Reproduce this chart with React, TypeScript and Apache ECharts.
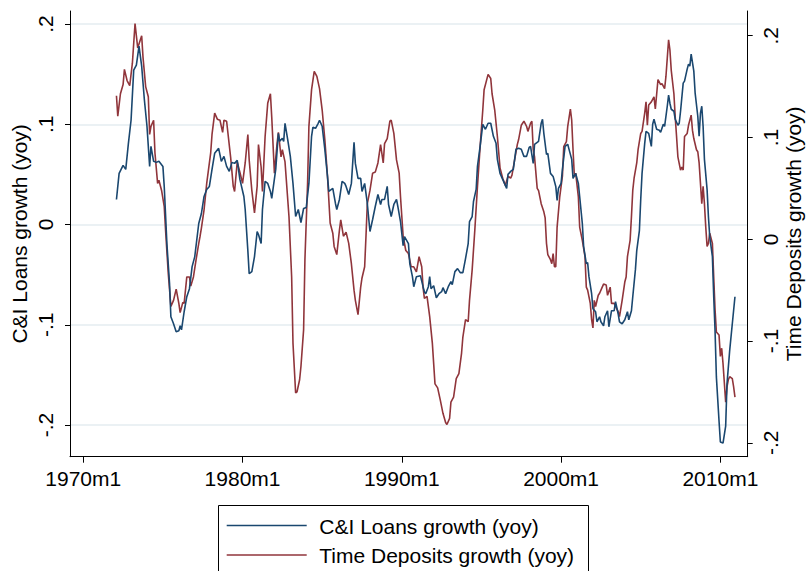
import React, { useEffect, useRef } from "react";
import * as echarts from "echarts";

const FONT = "'Liberation Sans', Arial, Helvetica, sans-serif";

// x axis: months since 1970m1
const xTickMonths = [0, 120, 240, 360, 480];
const leftTicks = [-0.2, -0.1, 0, 0.1, 0.2];
const rightTicks = [-0.2, -0.1, 0, 0.1, 0.2];

const seriesNames = ["C&I Loans growth (yoy)", "Time Deposits growth (yoy)"];
const leftTitle = "C&I Loans growth (yoy)";
const rightTitle = "Time Deposits growth (yoy)";

// C&I Loans growth (yoy), left axis
const ciMonths = [
  25, 27, 30, 32, 34, 36, 38, 40, 42, 44, 46, 48, 50, 51, 53, 55, 57, 60, 61, 63,
  65, 66, 68, 70, 72, 73, 74, 76, 78, 80, 82, 84, 87, 89, 91, 93, 95, 97, 99, 102,
  104, 106, 108, 110, 112, 114, 116, 118, 121, 122, 124, 125, 127, 129, 131, 132, 134, 135, 137, 139,
  141, 142, 145, 147, 148, 150, 151, 152, 154, 156, 158, 160, 162, 164, 166, 168, 170, 172, 173, 175,
  177, 178, 180, 182, 184, 185, 188, 190, 191, 193, 195, 197, 198, 200, 202, 204, 205, 207, 209, 210,
  212, 214, 216, 218, 220, 222, 224, 225, 227, 229, 230, 232, 234, 236, 237, 239, 241, 242, 245, 246,
  248, 249, 251, 254, 256, 257, 258, 260, 261, 262, 264, 266, 268, 270, 271, 273, 275, 277, 278, 280,
  282, 284, 286, 288, 290, 291, 293, 294, 296, 297, 299, 301, 303, 305, 307, 309, 311, 312, 314, 316,
  319, 320, 322, 324, 326, 328, 330, 332, 334, 336, 337, 339, 340, 343, 345, 346, 347, 349, 350, 352,
  354, 356, 357, 358, 360, 361, 363, 365, 366, 368, 369, 371, 373, 374, 376, 377, 379, 380, 381, 383,
  384, 386, 387, 389, 390, 392, 393, 395, 396, 398, 400, 401, 403, 404, 406, 408, 410, 411, 413, 414,
  416, 417, 419, 420, 421, 423, 424, 426, 428, 429, 430, 432, 434, 435, 437, 438, 440, 441, 442, 443,
  445, 446, 448, 449, 450, 452, 453, 455, 456, 457, 458, 460, 461, 463, 464, 465, 466, 467, 468, 470,
  471, 472, 474, 475, 476, 477, 479, 480, 482, 484, 485, 487, 489, 491,
];
const ciValues = [
  0.025, 0.051, 0.059, 0.055, 0.081, 0.104, 0.154, 0.159, 0.178, 0.158, 0.125, 0.098, 0.058, 0.078, 0.063, 0.062, 0.063, 0.058, 0.038, -0.019,
  -0.059, -0.092, -0.099, -0.107, -0.106, -0.101, -0.105, -0.087, -0.072, -0.064, -0.042, -0.032, 0.001, 0.011, 0.028, 0.035, 0.038, 0.055, 0.071, 0.076,
  0.063, 0.068, 0.058, 0.053, 0.062, 0.061, 0.064, 0.045, 0.028, 0.015, -0.026, -0.049, -0.047, -0.032, -0.007, -0.01, -0.019, 0.015, 0.043, 0.041,
  0.033, 0.026, 0.055, 0.091, 0.083, 0.086, 0.083, 0.101, 0.085, 0.068, 0.041, 0.008, 0.015, 0.002, 0.016, 0.017, 0.041, 0.088, 0.097, 0.096,
  0.101, 0.104, 0.098, 0.075, 0.048, 0.033, 0.036, 0.021, 0.015, 0.025, 0.043, 0.041, 0.038, 0.03, 0.041, 0.082, 0.061, 0.046, 0.046, 0.033,
  0.041, 0.021, -0.007, 0.005, 0.018, 0.03, 0.02, 0.025, 0.025, 0.038, 0.02, 0.008, 0.02, 0.025, 0.018, 0.003, -0.021, -0.012, -0.019, -0.039,
  -0.052, -0.062, -0.052, -0.051, -0.062, -0.067, -0.069, -0.062, -0.052, -0.064, -0.061, -0.073, -0.069, -0.067, -0.063, -0.069, -0.062, -0.057, -0.06, -0.047,
  -0.044, -0.048, -0.048, -0.034, -0.019, 0.003, 0.008, 0.023, 0.035, 0.058, 0.078, 0.1, 0.095, 0.101, 0.101, 0.088, 0.081, 0.065, 0.051, 0.045,
  0.036, 0.05, 0.053, 0.055, 0.075, 0.076, 0.075, 0.068, 0.068, 0.077, 0.078, 0.061, 0.08, 0.083, 0.101, 0.105, 0.091, 0.07, 0.071, 0.051,
  0.048, 0.038, 0.024, 0.036, 0.041, 0.055, 0.078, 0.08, 0.075, 0.065, 0.046, 0.051, 0.041, 0.028, 0.001, -0.022, -0.039, -0.038, -0.052, -0.069,
  -0.084, -0.087, -0.097, -0.092, -0.097, -0.101, -0.092, -0.086, -0.102, -0.086, -0.086, -0.077, -0.089, -0.097, -0.099, -0.095, -0.087, -0.095, -0.086, -0.072,
  -0.045, -0.026, -0.006, 0.025, 0.051, 0.081, 0.093, 0.091, 0.078, 0.1, 0.105, 0.095, 0.094, 0.092, 0.1, 0.098, 0.118, 0.129, 0.121, 0.115,
  0.113, 0.105, 0.099, 0.101, 0.113, 0.141, 0.143, 0.155, 0.16, 0.158, 0.17, 0.153, 0.131, 0.108, 0.088, 0.111, 0.118, 0.098, 0.065, 0.035,
  0.008, -0.012, -0.032, -0.072, -0.106, -0.152, -0.196, -0.217, -0.218, -0.201, -0.159, -0.126, -0.099, -0.072,
];

// Time Deposits growth (yoy), right axis
const tdMonths = [
  25, 26, 28, 30, 31, 33, 35, 37, 39, 41, 44, 45, 47, 49, 50, 51, 53, 54, 56, 57,
  59, 61, 62, 64, 66, 68, 70, 72, 73, 75, 76, 78, 80, 81, 83, 85, 87, 88, 89, 91,
  93, 96, 97, 99, 101, 103, 105, 106, 108, 111, 113, 114, 116, 118, 120, 122, 124, 125, 127, 129,
  131, 132, 134, 135, 137, 139, 141, 142, 144, 146, 147, 149, 150, 152, 153, 155, 157, 158, 160, 161,
  163, 164, 166, 167, 169, 170, 172, 174, 176, 178, 180, 182, 184, 186, 188, 189, 191, 193, 194, 196,
  198, 200, 202, 204, 205, 207, 209, 210, 212, 213, 214, 216, 218, 220, 222, 224, 226, 227, 229, 231,
  232, 234, 236, 238, 239, 241, 243, 245, 247, 249, 251, 253, 255, 256, 257, 259, 261, 263, 265, 267,
  269, 271, 273, 274, 276, 277, 279, 281, 283, 285, 286, 288, 290, 291, 293, 295, 297, 299, 301, 302,
  305, 307, 308, 310, 312, 314, 316, 318, 320, 322, 323, 325, 327, 328, 330, 332, 334, 335, 337, 338,
  339, 340, 342, 343, 345, 347, 348, 349, 350, 352, 353, 354, 355, 356, 357, 359, 361, 362, 364, 365,
  367, 368, 369, 370, 371, 373, 374, 376, 378, 379, 380, 382, 383, 384, 385, 386, 388, 389, 391, 392,
  394, 395, 397, 398, 400, 401, 403, 404, 406, 408, 409, 410, 412, 413, 414, 415, 417, 418, 420, 421,
  423, 424, 425, 426, 428, 430, 431, 433, 435, 436, 438, 439, 440, 441, 442, 443, 445, 446, 447, 448,
  450, 451, 452, 453, 455, 456, 458, 459, 460, 462, 463, 464, 466, 467, 468, 469, 470, 471, 472, 474,
  475, 476, 477, 479, 480, 481, 482, 484, 485, 486, 487, 489, 490, 491,
];
const tdValues = [
  0.141, 0.121, 0.143, 0.152, 0.167, 0.156, 0.151, 0.173, 0.212, 0.188, 0.2, 0.179, 0.15, 0.14, 0.103, 0.111, 0.117, 0.085, 0.055, 0.058,
  0.048, 0.032, 0.009, -0.033, -0.066, -0.06, -0.049, -0.063, -0.072, -0.062, -0.063, -0.037, -0.037, -0.046, -0.037, -0.02, -0.004, 0.003, 0.011, 0.029,
  0.055, 0.085, 0.103, 0.124, 0.118, 0.117, 0.105, 0.117, 0.116, 0.081, 0.052, 0.047, 0.076, 0.066, 0.055, 0.075, 0.103, 0.078, 0.048, 0.026,
  0.052, 0.093, 0.071, 0.047, 0.101, 0.134, 0.143, 0.12, 0.065, 0.094, 0.105, 0.081, 0.088, 0.076, 0.058, 0.022, -0.037, -0.102, -0.151, -0.15,
  -0.138, -0.125, -0.089, -0.02, 0.055, 0.111, 0.147, 0.165, 0.16, 0.148, 0.127, 0.098, 0.062, 0.016, 0.006, -0.007, -0.015, 0.009, 0.019, 0.003,
  0.007, -0.004, -0.024, -0.05, -0.06, -0.074, -0.047, -0.038, -0.027, 0.003, 0.035, 0.048, 0.065, 0.066, 0.075, 0.093, 0.075, 0.094, 0.099, 0.116,
  0.117, 0.104, 0.078, 0.065, 0.042, 0.003, -0.011, -0.014, -0.027, -0.027, -0.032, -0.017, -0.027, -0.047, -0.058, -0.056, -0.076, -0.102, -0.142, -0.146,
  -0.158, -0.171, -0.18, -0.182, -0.176, -0.16, -0.155, -0.137, -0.132, -0.112, -0.096, -0.079, -0.081, -0.06, -0.03, 0.009, 0.052, 0.091, 0.127, 0.147,
  0.162, 0.158, 0.143, 0.127, 0.101, 0.07, 0.06, 0.053, 0.062, 0.06, 0.063, 0.078, 0.093, 0.098, 0.112, 0.116, 0.111, 0.106, 0.114, 0.116,
  0.088, 0.081, 0.05, 0.048, 0.035, 0.027, 0.021, -0.004, -0.015, -0.02, -0.024, -0.014, -0.027, -0.027, 0.012, 0.042, 0.062, 0.091, 0.096, 0.111,
  0.128, 0.117, 0.088, 0.062, 0.065, 0.042, 0.012, -0.001, -0.017, -0.047, -0.05, -0.063, -0.079, -0.087, -0.06, -0.066, -0.055, -0.053, -0.047, -0.044,
  -0.045, -0.055, -0.047, -0.063, -0.063, -0.066, -0.071, -0.076, -0.06, -0.042, -0.037, -0.017, -0.001, 0.022, 0.048, 0.06, 0.075, 0.088, 0.104, 0.106,
  0.124, 0.135, 0.112, 0.132, 0.135, 0.14, 0.128, 0.157, 0.152, 0.153, 0.148, 0.16, 0.178, 0.196, 0.186, 0.166, 0.143, 0.12, 0.101, 0.081,
  0.068, 0.071, 0.068, 0.101, 0.104, 0.112, 0.122, 0.107, 0.099, 0.088, 0.086, 0.075, 0.035, 0.052, 0.035, 0.012, -0.007, -0.004, 0.006, -0.004,
  -0.037, -0.069, -0.091, -0.094, -0.115, -0.107, -0.122, -0.16, -0.145, -0.138, -0.135, -0.137, -0.145, -0.155,
];

const BLUE = "#1a476f";
const RED = "#90353b";

const fmtTick = (v: number) => {
  const r = Math.round(v * 10) / 10;
  if (r === 0) return "0";
  return String(r).replace("0.", ".");
};
const fmtMonth = (v: number) => `${1970 + Math.round(v / 12)}m1`;

const zip = (xs: number[], ys: number[]) => xs.map((x, i) => [x, ys[i]]);

export default function App() {
  const ref = useRef<HTMLDivElement>(null);
  useEffect(() => {
    if (!ref.current) return;
    const chart = echarts.init(ref.current, null, { renderer: "svg" });
    const textBase = { fontFamily: FONT, fontSize: 21, color: "#000" };
    chart.setOption({
      animation: false,
      backgroundColor: "#ffffff",
      textStyle: { fontFamily: FONT },
      grid: {
        left: 70,
        top: 11,
        width: 677.7,
        height: 445.7,
        containLabel: false,
        outerBoundsMode: "none",
      },
      xAxis: {
        type: "value",
        min: -10,
        max: 500.6,
        axisLine: { show: true, onZero: false, lineStyle: { color: "#000", width: 1 } },
        axisTick: { show: true, length: 6, customValues: xTickMonths, lineStyle: { color: "#000" } },
        axisLabel: { ...textBase, customValues: xTickMonths, formatter: fmtMonth, margin: 11 },
        splitLine: { show: false },
      },
      yAxis: [
        {
          type: "value",
          position: "left",
          min: -0.2316,
          max: 0.213,
          axisLine: { show: true, onZero: false, lineStyle: { color: "#000", width: 1 } },
          axisTick: { show: true, length: 5, customValues: leftTicks, lineStyle: { color: "#000" } },
          axisLabel: { ...textBase, customValues: leftTicks, rotate: 90, formatter: fmtTick, margin: 14 },
          splitLine: { show: true, lineStyle: { color: "#e5edf1", width: 1.5 } },
          name: leftTitle,
          nameLocation: "middle",
          nameRotate: 90,
          nameGap: 40,
          nameMoveOverlap: false,
          nameTextStyle: textBase,
        },
        {
          type: "value",
          position: "right",
          min: -0.2136,
          max: 0.2243,
          axisLine: { show: true, onZero: false, lineStyle: { color: "#000", width: 1 } },
          axisTick: { show: true, length: 5, customValues: rightTicks, lineStyle: { color: "#000" } },
          axisLabel: { ...textBase, customValues: rightTicks, rotate: 90, formatter: fmtTick, margin: 12 },
          splitLine: { show: false },
          name: rightTitle,
          nameLocation: "middle",
          nameRotate: 90,
          nameGap: 35,
          nameMoveOverlap: false,
          nameTextStyle: textBase,
        },
      ],
      series: [
        {
          name: seriesNames[0],
          type: "line",
          yAxisIndex: 0,
          data: zip(ciMonths, ciValues),
          showSymbol: false,
          symbol: "none",
          lineStyle: { color: BLUE, width: 1.6 },
          itemStyle: { color: BLUE },
          z: 3,
        },
        {
          name: seriesNames[1],
          type: "line",
          yAxisIndex: 1,
          data: zip(tdMonths, tdValues),
          showSymbol: false,
          symbol: "none",
          lineStyle: { color: RED, width: 1.6 },
          itemStyle: { color: RED },
          z: 2,
        },
      ],
      graphic: [
        {
          type: "rect",
          shape: { x: 218.5, y: 505.5, width: 370, height: 90 },
          style: { fill: "#fff", stroke: "#000", lineWidth: 1 },
          silent: true,
        },
        {
          type: "line",
          shape: { x1: 226.7, y1: 525.5, x2: 306.7, y2: 525.5 },
          style: { stroke: BLUE, lineWidth: 1.6 },
          silent: true,
        },
        {
          type: "text",
          x: 319.3,
          y: 526,
          style: { text: seriesNames[0], font: `21px ${FONT}`, fill: "#000", verticalAlign: "middle", align: "left" },
          silent: true,
        },
        {
          type: "line",
          shape: { x1: 226.7, y1: 555, x2: 306.7, y2: 555 },
          style: { stroke: RED, lineWidth: 1.6 },
          silent: true,
        },
        {
          type: "text",
          x: 319.3,
          y: 555.5,
          style: { text: seriesNames[1], font: `21px ${FONT}`, fill: "#000", verticalAlign: "middle", align: "left" },
          silent: true,
        },
      ],
    });
    return () => chart.dispose();
  }, []);
  return (
    <div
      ref={ref}
      style={{ position: "absolute", left: 0, top: 0, width: 806, height: 571, background: "#fff" }}
    />
  );
}
